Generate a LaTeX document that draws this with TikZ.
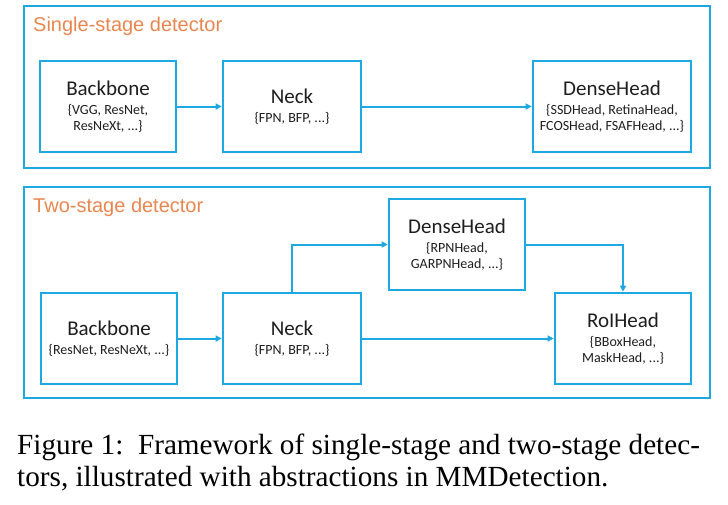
\documentclass[tikz,border=0pt]{standalone}
\usepackage{fontspec}
\setmainfont{Liberation Serif}
\newfontfamily\boxfont{Carlito}
\newfontfamily\titlefont{Liberation Sans}
\usetikzlibrary{arrows.meta}
\definecolor{frameblue}{RGB}{30,168,226}
\definecolor{titleorange}{RGB}{232,134,80}
\definecolor{textgray}{RGB}{30,30,30}
\tikzset{
  frame/.style={draw=frameblue, line width=2.6pt},
  blk/.style={draw=frameblue, line width=2.6pt, fill=white, align=center, inner sep=0pt,
     font=\boxfont\fontsize{14}{16}\selectfont, text=textgray},
  conn/.style={draw=frameblue, line width=2pt, -{Triangle[length=6pt,width=6pt]}},
  stitle/.style={anchor=base west, font=\titlefont\fontsize{20}{24}\selectfont, text=titleorange, inner sep=0pt},
  captxt/.style={anchor=base west, inner sep=0pt, font=\fontsize{29.2}{34}\selectfont},
}
\newcommand{\bigname}[1]{{\fontsize{21}{16}\selectfont #1}\\[3pt]}
\begin{document}
\begin{tikzpicture}[x=1pt,y=-1pt]
\useasboundingbox (0,0) rectangle (728,504);
% frames
\draw[frame] (24,6) rectangle (710,168);
\draw[frame] (24,187) rectangle (710,398);
\node[stitle] (t1) at (33,31) {Single-stage detector};
\node[stitle] (t2) at (33,212) {Two-stage detector};
% single stage
\node[blk, minimum width=136, minimum height=91] (bb1) at (108,106.5)
  {\bigname{Backbone}\{VGG, ResNet,\\ ResNeXt, ...\}};
\node[blk, minimum width=138, minimum height=91] (nk1) at (292,106.5)
  {\bigname{Neck}\{FPN, BFP, ...\}};
\node[blk, minimum width=158, minimum height=91] (dh1) at (612,106.5)
  {\bigname{DenseHead}\{SSDHead, RetinaHead,\\ FCOSHead, FSAFHead, ...\}};
\draw[conn] (bb1) -- (nk1);
\draw[conn] (nk1) -- (dh1);
% two stage
\node[blk, minimum width=136, minimum height=91] (bb2) at (109,338.5)
  {\bigname{Backbone}\{ResNet, ResNeXt, ...\}};
\node[blk, minimum width=138, minimum height=91] (nk2) at (292,338.5)
  {\bigname{Neck}\{FPN, BFP, ...\}};
\node[blk, minimum width=136, minimum height=91] (dh2) at (457,244.5)
  {\bigname{DenseHead}\{RPNHead,\\ GARPNHead, ...\}};
\node[blk, minimum width=136, minimum height=91] (roi) at (623,338.5)
  {\bigname{RoIHead}\{BBoxHead,\\ MaskHead, ...\}};
\draw[conn] (bb2) -- (nk2);
\draw[conn] (nk2) -- (roi);
\draw[conn] (nk2.north) |- (dh2.west);
\draw[conn] (dh2.east) -| (roi.north);
% caption
\node[captxt] (cap1) at (17,454)
  {Figure 1:\ \ Framework of single-stage and two-stage detec-};
\node[captxt] (cap2) at (17,486)
  {tors, illustrated with abstractions in MMDetection.};
\end{tikzpicture}
\end{document}
